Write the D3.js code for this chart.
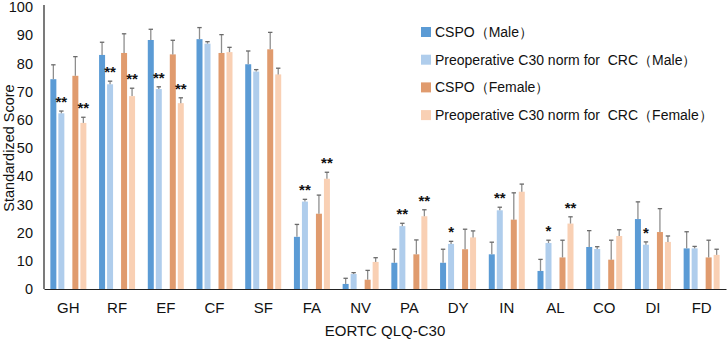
<!DOCTYPE html>
<html>
<head>
<meta charset="utf-8">
<script src="https://cdn.jsdelivr.net/npm/d3@7"></script>
<style>
  html, body { margin: 0; padding: 0; background: #fff; }
  svg text { font-family: "Liberation Sans", Arial, Helvetica, sans-serif; fill: #111; }
</style>
</head>
<body>
<svg id="chart" width="727" height="339"></svg>
<script>
const categories = ["GH", "RF", "EF", "CF", "SF", "FA", "NV", "PA", "DY", "IN", "AL", "CO", "DI", "FD"];

// means and upper error (SD)
const cspoMale = [74.4, 83.0, 88.3, 88.6, 79.7, 18.5, 1.8, 9.3, 9.3, 12.3, 6.4, 14.9, 24.8, 14.4];
const cspoMaleErr = [5.1, 4.5, 3.8, 4.1, 4.7, 4.4, 2.0, 4.8, 4.8, 4.3, 4.1, 5.8, 6.1, 5.9];
const normMale = [62.3, 72.6, 70.9, 87.0, 77.1, 31.0, 5.3, 22.3, 16.0, 27.9, 16.3, 14.2, 15.7, 14.4];
const normMaleErr = [0.8, 1.1, 0.8, 0.7, 0.7, 0.8, 0.5, 1.0, 0.9, 1.1, 1.0, 0.8, 1.0, 0.7];
const cspoFemale = [75.6, 83.7, 83.2, 83.7, 85.0, 26.7, 3.3, 12.3, 14.1, 24.6, 11.2, 10.4, 20.2, 11.2];
const cspoFemaleErr = [6.8, 6.8, 5.0, 6.5, 6.0, 6.6, 3.3, 5.1, 7.1, 9.5, 6.1, 6.9, 8.3, 6.1];
const normFemale = [58.9, 68.4, 65.9, 84.0, 76.1, 39.1, 9.6, 25.8, 18.3, 34.5, 23.2, 18.8, 16.7, 12.1];
const normFemaleErr = [2.0, 2.8, 1.9, 1.7, 2.2, 2.3, 1.5, 2.3, 2.3, 2.7, 2.4, 2.2, 2.1, 2.0];

// significance marks over the norm bars
const sigMale = ["**", "**", "**", "", "", "**", "", "**", "*", "**", "*", "", "*", ""];
const sigFemale = ["**", "**", "**", "", "", "**", "", "**", "", "", "**", "", "", ""];

const seriesNames = [
  "CSPO\uFF08Male\uFF09",
  "Preoperative C30 norm for  CRC\uFF08Male\uFF09",
  "CSPO\uFF08Female\uFF09",
  "Preoperative C30 norm for  CRC\uFF08Female\uFF09"
];
const colors = ["#5b9bd5", "#afcdec", "#e09b6e", "#f9d0b4"];
const yTicks = [0, 10, 20, 30, 40, 50, 60, 70, 80, 90, 100];

const series = [
  { name: seriesNames[0], sex: "Male", kind: "cspo", values: cspoMale, err: cspoMaleErr, sig: null, color: colors[0] },
  { name: seriesNames[1], sex: "Male", kind: "norm", values: normMale, err: normMaleErr, sig: sigMale, color: colors[1] },
  { name: seriesNames[2], sex: "Female", kind: "cspo", values: cspoFemale, err: cspoFemaleErr, sig: null, color: colors[2] },
  { name: seriesNames[3], sex: "Female", kind: "norm", values: normFemale, err: normFemaleErr, sig: sigFemale, color: colors[3] }
];

const svg = d3.select("#chart");
const margin = { left: 44, right: 1, top: 7, bottom: 50 };
const W = 727, H = 339;

const x = d3.scaleBand().domain(categories).range([margin.left, W - margin.right]);
const xPair = d3.scaleBand().domain(["Male", "Female"]).range([0, x.bandwidth()])
  .paddingInner(0.364).paddingOuter(0.289);
const xBar = d3.scaleBand().domain(["cspo", "norm"]).range([0, xPair.bandwidth()])
  .paddingInner(0.25).paddingOuter(0);
const y = d3.scaleLinear().domain([0, 100]).range([H - margin.bottom, margin.top]);
const y0 = y(0);

// flatten into bar records
const bars = [];
series.forEach((s) => {
  categories.forEach((c, i) => {
    bars.push({
      cat: c, value: s.values[i], err: s.err[i], sig: s.sig ? s.sig[i] : "",
      color: s.color, sex: s.sex, kind: s.kind
    });
  });
});
const bx = (d) => x(d.cat) + xPair(d.sex) + xBar(d.kind);

// bars
svg.append("g")
  .selectAll("rect")
  .data(bars)
  .enter()
  .append("rect")
  .attr("x", bx)
  .attr("y", (d) => y(d.value))
  .attr("width", xBar.bandwidth())
  .attr("height", (d) => y0 - y(d.value))
  .attr("fill", (d) => d.color);

// error bars (upper only)
const eb = svg.append("g").selectAll("g").data(bars).enter().append("g");
eb.append("line")
  .attr("x1", (d) => bx(d) + xBar.bandwidth() / 2)
  .attr("x2", (d) => bx(d) + xBar.bandwidth() / 2)
  .attr("y1", (d) => y(d.value))
  .attr("y2", (d) => y(d.value + d.err))
  .attr("stroke", "#8e8e8e")
  .attr("stroke-width", 1.3);
eb.append("line")
  .attr("x1", (d) => bx(d) + xBar.bandwidth() / 2 - 2.2)
  .attr("x2", (d) => bx(d) + xBar.bandwidth() / 2 + 2.2)
  .attr("y1", (d) => y(d.value + d.err))
  .attr("y2", (d) => y(d.value + d.err))
  .attr("stroke", "#6a6a6a")
  .attr("stroke-width", 1.3);

// significance stars
svg.append("g")
  .selectAll("text")
  .data(bars.filter((d) => d.sig))
  .enter()
  .append("text")
  .attr("x", (d) => bx(d) + xBar.bandwidth() / 2)
  .attr("y", (d) => y(d.value + d.err) - 4)
  .attr("text-anchor", "middle")
  .attr("font-size", 15)
  .attr("font-weight", "bold")
  .text((d) => d.sig);

// axes
const yAxis = d3.axisLeft(y).tickValues(yTicks).tickSize(0).tickPadding(11);
const gy = svg.append("g").attr("transform", `translate(${margin.left},0)`).call(yAxis);
gy.select(".domain").attr("stroke", "#222").attr("stroke-width", 1.2).attr("d", `M0,${y0}V${y(100) - 2}`);
gy.selectAll("text").attr("font-size", 14.5).attr("font-family", "Liberation Sans, Arial, sans-serif").attr("fill", "#111");

const xAxis = d3.axisBottom(x).tickSize(0).tickPadding(13);
const gx = svg.append("g").attr("transform", `translate(0,${y0})`).call(xAxis);
gx.select(".domain").attr("stroke", "#222").attr("stroke-width", 1.2);
gx.selectAll("text").attr("font-size", 15).attr("font-family", "Liberation Sans, Arial, sans-serif").attr("fill", "#111");

// axis titles
svg.append("text")
  .attr("x", (margin.left + W - margin.right) / 2)
  .attr("y", 336)
  .attr("text-anchor", "middle")
  .attr("font-size", 15)
  .text("EORTC QLQ-C30");

svg.append("text")
  .attr("transform", `translate(14,${(y0 + y(100)) / 2}) rotate(-90)`)
  .attr("text-anchor", "middle")
  .attr("font-size", 14.5)
  .text("Standardized Score");

// legend
const legend = svg.append("g").attr("transform", "translate(421,27)");
const li = legend.selectAll("g").data(series).enter().append("g")
  .attr("transform", (d, i) => `translate(0,${i * 27.7})`);
li.append("rect").attr("width", 10).attr("height", 10).attr("fill", (d) => d.color);
li.append("text")
  .attr("x", 14)
  .attr("y", 10)
  .attr("font-size", 14)
  .style("white-space", "pre")
  .attr("xml:space", "preserve")
  .text((d) => d.name);
</script>
</body>
</html>
